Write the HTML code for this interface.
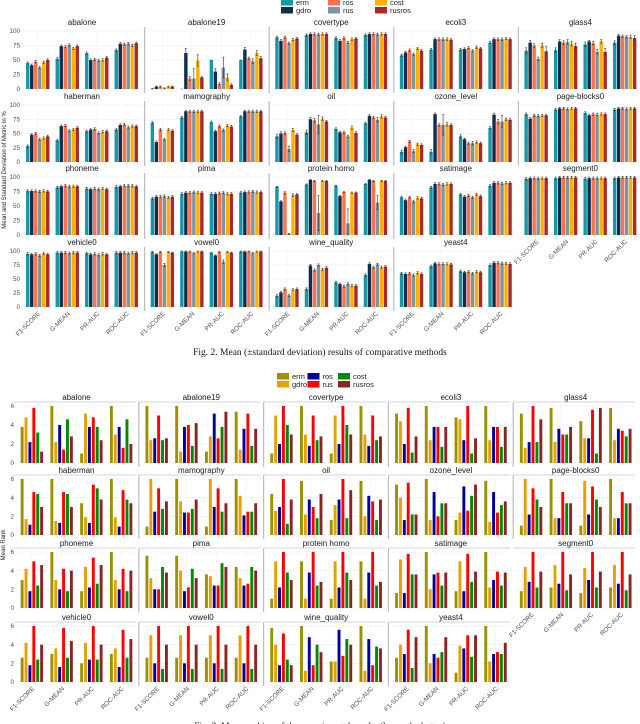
<!DOCTYPE html>
<html><head><meta charset="utf-8">
<style>
body{margin:0;background:#fff;}
svg{display:block;font-family:"Liberation Sans",sans-serif;}
</style></head>
<body>
<svg id="fig" width="640" height="724" viewBox="0 0 640 724" xmlns="http://www.w3.org/2000/svg"></svg>
<script>
const datasets = ["abalone","abalone19","covertype","ecoli3","glass4","haberman","mamography","oil","ozone_level","page-blocks0","phoneme","pima","protein homo","satimage","segment0","vehicle0","vowel0","wine_quality","yeast4"];
const metrics = ["F1-SCORE","G-MEAN","PR-AUC","ROC-AUC"];
const methods = ["erm","gdro","ros","rus","cost","rusros"];
const ticks1 = [0,25,50,75,100];
const ticks2 = [0,2,4,6];
// Fig 2 mean values (%) per dataset: [metric][method]
const meanVals = [
 [[45,41,47,37,46,50],[52,74,73,76,70,74],[62,50,51,49,50,54],[67,78,77,78,75,79]],
 [[0,4,4,1,4,4],[0,62,18,18,49,20],[50,30,9,37,20,7],[50,68,53,48,62,53]],
 [[89,83,89,79,85,87],[93,95,95,94,95,95],[88,83,88,80,86,87],[93,95,95,94,95,95]],
 [[58,63,67,60,70,66],[68,86,86,86,86,85],[68,69,71,66,72,70],[80,86,86,86,87,86]],
 [[66,80,75,52,75,65],[67,82,80,81,78,74],[77,82,79,64,82,64],[80,92,91,90,90,88]],
 [[28,48,50,40,42,45],[38,63,64,55,57,60],[54,57,58,51,53,54],[57,65,66,61,63,63]],
 [[69,35,57,40,57,55],[78,89,89,89,89,89],[70,54,63,56,64,62],[80,89,89,89,89,89]],
 [[45,50,51,23,56,48],[52,75,73,66,76,71],[58,52,52,45,60,51],[68,81,78,74,80,78]],
 [[18,26,36,19,31,30],[18,84,65,65,66,65],[45,40,33,33,35,33],[60,83,71,71,75,74]],
 [[84,76,82,81,82,82],[92,94,94,93,94,94],[86,82,84,83,84,84],[92,94,94,93,94,94]],
 [[76,76,76,75,76,75],[82,84,85,84,84,84],[80,79,80,79,80,79],[83,84,85,85,85,84]],
 [[63,66,66,67,65,66],[71,73,73,74,73,73],[71,71,72,73,71,71],[73,74,74,75,74,74]],
 [[83,58,73,2,69,70],[87,95,93,38,93,93],[85,67,74,20,73,73],[88,95,93,56,93,93]],
 [[65,60,65,58,64,63],[82,88,88,87,88,88],[70,66,68,65,70,67],[85,90,90,89,90,90]],
 [[97,98,98,98,98,98],[98,99,99,99,99,99],[97,98,98,98,98,98],[98,99,99,99,99,99]],
 [[95,94,95,92,96,94],[97,97,97,96,97,97],[96,94,95,93,95,94],[97,97,97,96,97,97]],
 [[98,94,98,75,98,97],[99,99,99,96,99,99],[97,92,98,81,98,97],[99,99,99,96,99,99]],
 [[20,26,32,21,31,32],[32,74,66,75,67,70],[44,41,37,41,38,38],[57,77,71,76,71,72]],
 [[60,59,60,57,61,59],[73,78,77,77,77,76],[64,62,63,60,63,62],[75,79,79,78,78,77]]
];
// standard deviations (default small)
const sdDefault = 2;
const sdVals = {1:[[1,1,1,1,1,1],[0,8,4,18,10,2],[0,5,2,18,6,2],[0,4,2,4,4,3]],
 4:[[5,4,3,3,4,8],[4,3,3,4,4,5],[4,2,3,4,3,6],[3,2,2,2,3,4]],
 7:[[3,3,2,5,3,2],[4,3,3,16,3,2],[2,2,2,2,3,2],[2,2,2,4,3,2]],
 8:[[3,2,2,3,2,2],[4,2,2,18,3,2],[3,2,2,3,2,2],[2,2,4,11,2,2]],
 12:[[1,1,2,1,2,2],[1,1,1,30,1,1],[1,1,1,25,1,1],[1,1,1,12,1,1]],
 16:[[1,1,1,3,1,1],[1,1,1,1,1,1],[1,1,1,3,1,1],[1,1,1,1,1,1]]};
// Fig 3 mean ranks
const rankVals = [
 [[3.8,4.8,2.2,5.8,3.2,1.2],[6,2.2,4,1.4,4.6,2.8],[1,5.2,3.8,4.8,3.8,2.4],[6,3,3.8,1.6,4.6,2]],
 [[6,2.4,2.6,5,2.4,2.6],[6,1.2,3.8,4,1.8,4.2],[1.2,2.8,5.2,2.6,3.8,5.4],[5.4,1.4,3.6,5.2,1.8,3.6]],
 [[1,5,2,6,4,3],[6,3,1.8,5,2.4,2.8],[1,5,2,6,4,3],[6,3,1.8,5,2.4,2.8]],
 [[5.2,4.4,2,5.8,1.1,2.8],[6,2.4,3.8,3.8,1.7,3.8],[4.8,4.6,2.4,6,1,2.6],[6,2.4,3.8,3.8,1.7,3.8]],
 [[5.2,1.6,2.2,6,2.2,4.6],[5.8,2.2,3.6,3,3,3.8],[4.4,2.6,2.6,5.6,1,5.8],[5.8,2.4,3.6,3.4,2.8,3.6]],
 [[6,1.7,1.1,4.6,4.4,3],[6,1.5,1.3,4.6,4.4,3],[3.4,1.9,1.3,5.4,5,3.8],[6,1.9,0.9,4.8,3.8,3.4]],
 [[0.9,6,2.5,5,2.8,3.6],[6,3.6,2.4,2.4,2.8,3.8],[0.9,6,3,5,2.5,3.4],[6,4.2,2.1,2.5,2.5,3.4]],
 [[4.4,2.6,3,6,1.2,3.8],[5.8,2.2,3.8,3,1.8,4.4],[1.6,3.2,3.8,6,1.8,4.8],[5.8,2,4.2,3.6,1.6,3.8]],
 [[5.4,4,1.6,5.6,2.2,2.2],[6,1.6,4.6,2,3.4,3.4],[1.6,2.4,5.2,2.6,4.2,5.4],[5.8,1.4,4.6,2.4,3.2,3.6]],
 [[1,6,2.2,5,3.8,3],[6,1.8,1.8,4.6,3.4,3.4],[1,5.8,2.2,5.2,3.8,3],[6,1.8,1.8,4.6,3.4,3.4]],
 [[3,4.2,1.8,5,2.4,4.6],[6,3,2,4.2,1.8,4],[1.8,4.4,2.2,5.4,2.6,4.6],[6,3,2,4.2,1.8,4]],
 [[5.6,3.2,2,2,4.4,3.8],[5.6,4,1.8,2.2,4.2,3.2],[3.6,3.4,2.4,2.4,4.8,4.4],[4.4,3.2,2.4,2.6,4.4,4]],
 [[1,5,2.2,6,3.8,3],[5,1,3.8,6,2.4,2.8],[1,5,2.2,6,3.8,3],[5,1,3.8,6,2.4,2.8]],
 [[1.6,5.2,1.6,5.8,3.6,3.6],[6,2,3.6,3.8,2.4,3.8],[1.8,5,1.8,5.8,2.8,3.9],[6,2.2,3,3.9,2.4,3.8]],
 [[1.8,4.4,2.8,6,2.2,3.9],[2.2,4.6,2.6,6,1.9,3.6],[1.6,4.3,3,6,2.2,3.9],[2.2,4.6,2.6,6,1.9,3.6]],
 [[2.6,4.2,1.8,6,2.4,4],[3,3.6,1.6,5.8,2.6,4.4],[2,4.2,2.4,6,2.4,4],[3,3.6,1.6,5.6,2.6,4.6]],
 [[2.6,5,2,6,1.4,4],[2.6,5,2,6,1.4,4],[2.6,5,2,6,1.4,4],[2.6,5,2,6,1.4,4]],
 [[5.8,4,1.8,5.2,2.4,1.8],[6,1.2,4.8,1.8,4,3.2],[2.2,2.2,5.6,2.8,4.6,4],[6,1.2,4.6,1.8,3.8,3.6]],
 [[2.6,4,3,5.6,1.5,4.8],[6,2,3,2.6,3.2,4.8],[1,3.9,3.6,5,2.7,5],[6,2.2,3,3.2,3,4.2]]
];
const colors1 = ["#1597a5","#0f2d4f","#ff7249","#7c95a6","#ffb000","#a92a2a"];
const colors2 = ["#9a9200","#e89f00","#00009e","#ff0000","#008a00","#8b2525"];

const svg = document.getElementById('fig');
const NS = "http://www.w3.org/2000/svg";
function mk(tag, attrs, parent){const e=document.createElementNS(NS,tag);for(const k in attrs)e.setAttribute(k,attrs[k]);(parent||svg).appendChild(e);return e;}
function txt(s, attrs, parent){const e=mk('text',attrs,parent);e.textContent=s;return e;}

function drawFigure(cfg){
  const g = mk('g',{});
  
  
  datasets.forEach((ds, i) => {
    const col = i % 5, row = Math.floor(i / 5);
    const px = cfg.x0 + cfg.pitchX * col;
    const yTop = cfg.yTops[row], yBot = cfg.yBots[row];
    const pw = cfg.pw;
    const yScale = v => yBot - (v / cfg.max) * (yBot - yTop);
    const p = mk('g',{},g);
    
    
    // grid
    cfg.ticks.forEach(t => {
      const ln = mk('line',{x1:px,x2:px+pw,y1:yScale(t),y2:yScale(t),stroke:'#ececec','stroke-width':0.6},p);
      
      
    });
    metrics.forEach((m,k)=>{
      const cx = px + (k+0.5)*pw/4;
      mk('line',{x1:cx,x2:cx,y1:yTop-3,y2:yBot+3,stroke:'#f2f2f2','stroke-width':0.6},p);
    });
    // separator
    if (col > 0 && !(cfg.noSepSeg && i === 14)) {
      const sp = mk('line',{x1:px-3,x2:px-3,y1:yTop-4,y2:yBot+4,stroke:'#bdbdbd','stroke-width':1.2},p);
      
      
    }
    if (cfg.topLine) mk('line',{x1:px-3,x2:px+pw,y1:yTop-4,y2:yTop-4,stroke:'#c8c8c8','stroke-width':0.8},p);
    // title
    const tt = txt(ds,{x:px+pw/2,y:yTop-6,'font-size':cfg.titleSize,'text-anchor':'middle',fill:'#1a1a1a'},p);
    
    
    // y ticks on first col
    if (col === 0) {
      cfg.ticks.forEach(t=>{
        const tl = txt(String(t),{x:px-3,y:yScale(t)+2.2,'font-size':cfg.tickSize,'text-anchor':'end',fill:'#4d4d4d'},p);
        
        
      });
    }
    const vals = cfg.values[i];
    metrics.forEach((m,k)=>{
      const gx = px + (k+0.5)*pw/4;
      const startX = gx - 3*cfg.barPitch;
      methods.forEach((meth,j)=>{
        const v = vals[k][j];
        const bx = startX + j*cfg.barPitch + (cfg.barPitch-cfg.barW)/2;
        const y = yScale(v);
        const r = mk('rect',{x:bx,y:y,width:cfg.barW,height:Math.max(0,yBot-y),fill:cfg.colors[j]},p);
        
        
        if (cfg.sd) {
          const s = (sdVals[i] ? sdVals[i][k][j] : sdDefault);
          const cxb = bx + cfg.barW/2;
          const y1 = yScale(Math.min(cfg.max*1.02, v + s)), y2 = yScale(Math.max(0, v - s));
          const eb = mk('path',{d:`M${cxb-1},${y1}H${cxb+1}M${cxb},${y1}V${y2}M${cxb-1},${y2}H${cxb+1}`,stroke:'#333','stroke-width':0.6,fill:'none'},p);
          
          
        }
      });
      // x labels
      if (row === 3 || i === 14) {
        const lx = gx + 3, ly = yBot + 7;
        const xl = txt(m,{x:lx,y:ly,'font-size':cfg.tickSize,'text-anchor':'end',fill:'#4d4d4d',transform:`rotate(-45 ${lx} ${ly})`},p);
        
        
      }
    });
  });
  // legend
  const lg = mk('g',{},g);
  
  
  methods.forEach((meth,j)=>{
    const c = Math.floor(j/2), r = j%2;
    const lx = cfg.legX + c*cfg.legPitch, ly = cfg.legY + r*8;
    const sw = mk('rect',{x:lx,y:ly,width:12,height:6.5,fill:cfg.colors[j]},lg);
    
    
    const lt = txt(meth,{x:lx+15,y:ly+6,'font-size':7.5,fill:'#222'},lg);
    
    
  });
  const yt = txt(cfg.yTitle,{x:cfg.yTitleX,y:cfg.yTitleY,'font-size':6,'text-anchor':'middle',fill:'#222',transform:`rotate(-90 ${cfg.yTitleX} ${cfg.yTitleY})`},g);
  
  
  const cap = txt(cfg.caption,{x:320,y:cfg.capY,'font-size':9.5,'text-anchor':'middle',fill:'#111','font-family':'"Liberation Serif",serif','xml:space':'preserve'},g);
  
  
}

drawFigure({name:'fig2-mean-std-chart', x0:23, pitchX:124.6, pw:118, yTops:[31,105,177,251], yBots:[89,162,235,307],
  max:100, ticks:ticks1, values:meanVals, colors:colors1, barPitch:4, barW:3.4, sd:true, noSepSeg:true, topLine:false,
  titleSize:8, tickSize:6.3, legX:281, legY:-1, legPitch:47, yTitle:'Mean and Standard Deviation of Metric in %',
  yTitleX:6, yTitleY:170, caption:'Fig. 2.    Mean (±standard deviation) results of comparative methods', capY:355});
drawFigure({name:'fig3-mean-rank-chart', x0:17, pitchX:124.8, pw:119, yTops:[406,479,552,626], yBots:[463,535,608,682],
  max:6, ticks:ticks2, values:rankVals, colors:colors2, barPitch:3.9, barW:2.9, sd:false, noSepSeg:true, topLine:true,
  titleSize:8, tickSize:6.3, legX:277, legY:373, legPitch:30.5, yTitle:'Mean Rank',
  yTitleX:5, yTitleY:545, caption:'Fig. 3.    Mean ranking of the experimental results (lower the better)', capY:729});
</script>
</body></html>
